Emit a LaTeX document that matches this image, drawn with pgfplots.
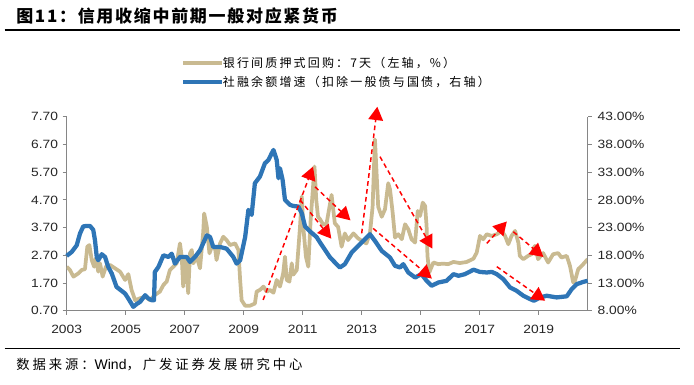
\documentclass[border=0pt]{standalone}
\usepackage{fontspec}
\setmainfont{Liberation Sans}
\newfontfamily\cjkT[LetterSpace=10]{Noto Sans CJK SC}
\newfontfamily\cjkL[LetterSpace=18]{Noto Sans CJK SC}
\newfontfamily\cjkS[LetterSpace=22]{Noto Sans CJK SC}
\newfontfamily\tickfont[FakeStretch=1.15]{Liberation Sans}
\usepackage{pgfplots}
\usepackage{pgfplotstable}
\pgfplotsset{compat=1.18}
\usetikzlibrary{arrows.meta}
\definecolor{beige}{RGB}{201,186,145}
\definecolor{sfblue}{RGB}{46,117,182}
\definecolor{axgray}{RGB}{134,134,134}
\definecolor{tlab}{RGB}{38,38,38}

\pgfplotstableread{
x y
2003.00 2.29
2003.11 2.17
2003.23 1.93
2003.40 2.05
2003.51 2.17
2003.62 2.20
2003.70 3.01
2003.77 3.07
2003.85 2.53
2003.93 2.29
2003.99 2.59
2004.07 2.11
2004.13 2.41
2004.22 1.93
2004.33 2.29
2004.47 2.35
2004.64 2.23
2004.81 2.11
2004.98 1.81
2005.09 2.02
2005.20 1.45
2005.32 1.08
2005.49 1.15
2005.66 1.21
2005.82 1.08
2005.99 1.27
2006.16 1.39
2006.28 1.63
2006.39 1.75
2006.50 2.17
2006.62 2.29
2006.73 2.41
2006.84 3.13
2006.90 2.65
2006.95 1.57
2007.01 2.53
2007.07 2.17
2007.12 1.33
2007.18 2.77
2007.24 2.89
2007.29 2.41
2007.41 2.65
2007.52 2.23
2007.63 3.55
2007.66 4.21
2007.75 3.73
2007.84 2.77
2007.92 3.01
2008.03 2.95
2008.08 2.53
2008.20 3.13
2008.31 3.37
2008.42 3.25
2008.54 3.07
2008.71 3.13
2008.82 2.89
2008.88 1.81
2008.93 1.08
2009.05 0.88
2009.21 0.88
2009.38 0.96
2009.44 1.39
2009.55 1.45
2009.67 1.57
2009.78 1.39
2009.89 1.45
2010.01 1.35
2010.12 1.81
2010.23 1.57
2010.34 2.05
2010.40 2.65
2010.46 1.81
2010.55 1.75
2010.63 2.41
2010.68 2.00
2010.80 2.17
2010.91 3.73
2010.97 4.82
2011.02 3.73
2011.11 2.65
2011.19 2.29
2011.27 3.97
2011.40 5.90
2011.46 4.70
2011.52 4.09
2011.59 4.00
2011.70 3.80
2011.81 3.85
2011.98 4.88
2012.09 3.85
2012.20 3.73
2012.32 3.01
2012.43 3.49
2012.54 3.25
2012.72 3.49
2012.88 3.31
2013.05 3.19
2013.16 3.13
2013.28 3.49
2013.37 4.45
2013.45 6.88
2013.56 4.45
2013.68 4.09
2013.79 4.36
2013.90 5.30
2013.96 5.08
2014.05 4.24
2014.13 3.34
2014.24 3.46
2014.36 3.28
2014.47 3.82
2014.58 3.64
2014.69 3.28
2014.81 3.16
2014.90 4.30
2014.98 4.12
2015.07 4.60
2015.15 4.48
2015.20 3.76
2015.23 2.68
2015.29 2.08
2015.43 2.44
2015.60 2.38
2015.76 2.40
2015.93 2.38
2016.11 2.46
2016.33 2.42
2016.56 2.46
2016.79 2.58
2016.90 2.80
2017.01 3.40
2017.12 3.28
2017.24 3.46
2017.41 3.40
2017.58 3.46
2017.75 3.58
2017.86 3.40
2017.97 3.10
2018.08 3.40
2018.20 3.58
2018.31 3.16
2018.36 2.68
2018.48 2.56
2018.64 2.68
2018.76 2.74
2018.87 3.04
2018.98 2.56
2019.15 2.78
2019.32 2.44
2019.49 2.74
2019.66 2.78
2019.77 2.62
2019.95 2.68
2020.06 2.32
2020.17 1.72
2020.23 1.78
2020.34 2.20
2020.51 2.38
2020.66 2.56
}\repo

\pgfplotstableread{
x y
2003.00 17.9
2003.17 18.6
2003.34 19.8
2003.45 21.9
2003.56 23.2
2003.66 23.3
2003.79 23.3
2003.90 22.6
2003.96 20.7
2004.02 17.7
2004.07 17.1
2004.19 18.2
2004.30 17.7
2004.41 15.9
2004.53 14.7
2004.69 12.3
2004.86 11.6
2004.98 11.1
2005.09 10.2
2005.26 8.7
2005.37 9.2
2005.49 9.6
2005.66 10.8
2005.77 10.2
2005.88 9.9
2005.96 9.9
2005.99 15.0
2006.11 15.9
2006.28 18.0
2006.45 17.7
2006.56 18.3
2006.67 16.5
2006.84 17.7
2007.07 17.7
2007.18 16.8
2007.35 17.7
2007.52 18.9
2007.75 21.6
2007.86 21.3
2007.97 19.5
2008.20 19.5
2008.42 19.2
2008.65 17.7
2008.76 16.5
2008.88 17.1
2009.05 21.3
2009.16 26.2
2009.27 25.3
2009.38 31.0
2009.55 32.2
2009.72 34.6
2009.84 35.2
2009.95 36.4
2010.01 37.0
2010.12 35.2
2010.18 31.9
2010.23 33.7
2010.32 31.6
2010.40 28.0
2010.57 27.1
2010.68 26.9
2010.85 26.8
2010.97 25.6
2011.08 23.2
2011.25 22.3
2011.47 21.3
2011.59 20.3
2011.93 17.6
2012.26 15.8
2012.43 16.4
2012.66 18.5
2012.88 19.7
2013.05 20.6
2013.28 21.8
2013.45 20.6
2013.68 18.8
2013.96 17.6
2014.13 16.1
2014.30 15.8
2014.41 16.4
2014.58 14.9
2014.81 14.0
2015.03 14.6
2015.20 13.4
2015.37 12.5
2015.60 13.1
2015.88 13.4
2016.11 14.6
2016.28 14.3
2016.50 14.6
2016.79 15.4
2017.01 15.0
2017.24 14.9
2017.41 15.0
2017.58 14.6
2017.80 13.7
2018.03 12.2
2018.25 11.6
2018.48 10.7
2018.71 10.1
2018.84 9.8
2019.05 10.4
2019.27 10.7
2019.61 10.4
2019.95 10.6
2020.12 11.9
2020.29 12.8
2020.51 13.2
2020.66 13.4
}\tsf

\begin{document}
\begin{tikzpicture}
\path[use as bounding box] (0,0) rectangle (520.5pt,288.75pt);
\node[anchor=west,inner sep=0pt] at (12pt,276.75pt) {\cjkT\bfseries\fontsize{12.75}{14}\selectfont 图11：信用收缩中前期一般对应紧货币};
\draw[line width=1pt] (3.4pt,266.25pt) -- (510pt,266.25pt);
\draw[line width=1pt] (3.4pt,27.5pt) -- (510pt,27.5pt);
\node[anchor=west,inner sep=0pt] at (12pt,15.5pt) {\cjkS\fontsize{10}{12}\selectfont 数据来源：{\fontsize{10.5}{12}\selectfont\rmfamily Wind}，广发证券发展研究中心};
\draw[beige,line width=3pt] (137.25pt,241.5pt) -- (166.5pt,241.5pt);
\node[anchor=west,inner sep=0pt] at (167pt,241.5pt) {\cjkL\fontsize{9}{11}\selectfont 银行间质押式回购：7天（左轴，\%）};
\draw[sfblue,line width=3pt] (137.25pt,227.25pt) -- (166.5pt,227.25pt);
\node[anchor=west,inner sep=0pt] at (167pt,227.25pt) {\cjkL\fontsize{9}{11}\selectfont 社融余额增速（扣除一般债与国债，右轴）};

\pgfplotsset{every axis/.append style={
  at={(50pt,55.7pt)}, anchor=south west, scale only axis,
  width=390.75pt, height=145.5pt,
  xmin=2003, xmax=2020.66,
  tick align=outside, major tick length=3pt,
  tick style={axgray, line width=0.75pt},
  axis line style={axgray, line width=0.75pt},
  ticklabel style={font=\tickfont\fontsize{9}{10}\selectfont, text=tlab},
}}
\begin{axis}[
  axis y line*=left, axis x line*=bottom,
  ymin=0.7, ymax=7.7,
  ytick={0.7,1.7,2.7,3.7,4.7,5.7,6.7,7.7},
  yticklabels={0.70,1.70,2.70,3.70,4.70,5.70,6.70,7.70},
  xtick={2003,2005,2007,2009,2011,2013,2015,2017,2019},
  xticklabels={2003,2005,2007,2009,2011,2013,2015,2017,2019},
  xticklabel style={yshift=-4.5pt},
]
\addplot[beige, line width=2.8pt, line join=round] table[x=x,y=y]{\repo};
\end{axis}
\begin{axis}[
  axis y line*=right, axis x line=none, clip=false,
  ymin=8, ymax=43,
  ytick={8,13,18,23,28,33,38,43},
  yticklabels={8.00\%,13.00\%,18.00\%,23.00\%,28.00\%,33.00\%,38.00\%,43.00\%},
  yticklabel style={xshift=1pt},
]
\addplot[sfblue, line width=3.2pt, line join=round] table[x=x,y=y]{\tsf};
\begin{scope}[red, line width=1.1pt, dash pattern=on 3.5pt off 2.5pt, -{Triangle[length=10pt,width=11pt]}]
\draw (axis cs:2009.66,9.95) -- (axis cs:2011.35,34.0);
\draw (axis cs:2010.91,28.0) -- (axis cs:2011.97,21.0);
\draw (axis cs:2011.42,30.35) -- (axis cs:2012.62,24.3);
\draw (axis cs:2013.0,21.95) -- (axis cs:2013.53,44.8);
\draw (axis cs:2013.62,35.8) -- (axis cs:2015.40,19.2);
\draw (axis cs:2013.39,22.85) -- (axis cs:2015.38,13.8);
\draw (axis cs:2017.24,20.15) -- (axis cs:2017.92,24.1);
\draw (axis cs:2018.14,22.25) -- (axis cs:2019.16,17.7);
\draw (axis cs:2017.58,15.95) -- (axis cs:2019.22,9.8);
\end{scope}
\end{axis}
\end{tikzpicture}
\end{document}
